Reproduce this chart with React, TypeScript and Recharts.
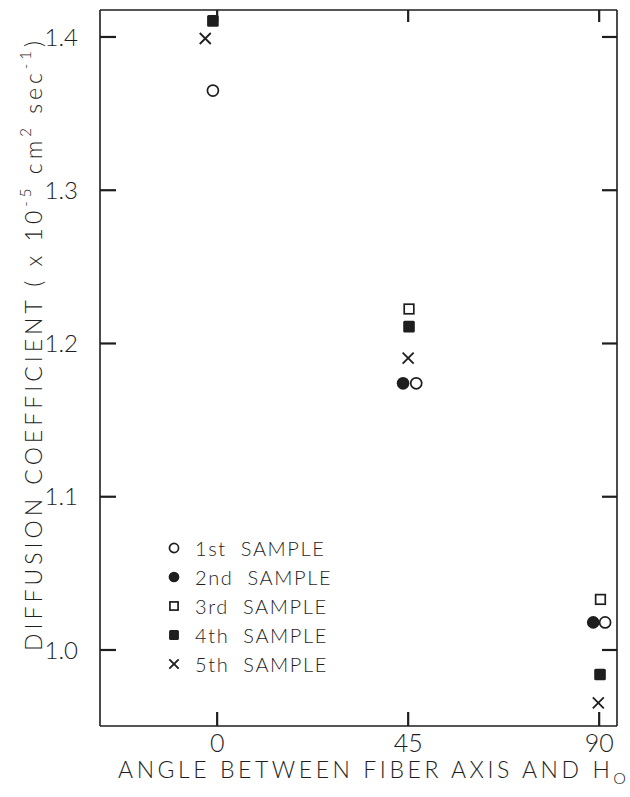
import React from 'react';
import { ScatterChart, Scatter, XAxis, YAxis, Legend, Label } from 'recharts';

// angle (deg) vs diffusion coefficient (x 10^-5 cm2/sec)
const angleTicks = [0, 45, 90];
const coefTicks = [1.0, 1.1, 1.2, 1.3, 1.4];

const sample1 = [
  { angle: -1, coef: 1.365 },
  { angle: 46.9, coef: 1.174 },
  { angle: 91.4, coef: 1.018 },
];
const sample2 = [
  { angle: 43.8, coef: 1.174 },
  { angle: 88.6, coef: 1.018 },
];
const sample3 = [
  { angle: 45.2, coef: 1.2225 },
  { angle: 90.3, coef: 1.033 },
];
const sample4 = [
  { angle: -1, coef: 1.4105 },
  { angle: 45.2, coef: 1.211 },
  { angle: 90.2, coef: 0.984 },
];
const sample5 = [
  { angle: -2.8, coef: 1.399 },
  { angle: 45, coef: 1.1905 },
  { angle: 89.8, coef: 0.9655 },
];

const sampleNames = ['1st SAMPLE', '2nd SAMPLE', '3rd SAMPLE', '4th SAMPLE', '5th SAMPLE'];

const INK = '#1e1e1e';
const FONT = 'Lato, "Open Sans", sans-serif';
const angleDomain = [-27.6, 94.2];
const coefDomain = [0.9504, 1.4176];

// anchor points for the inward frame ticks (placed through the chart scales)
const leftTickPts = coefTicks.map((v) => ({ angle: angleDomain[0], coef: v }));
const rightTickPts = coefTicks.map((v) => ({ angle: angleDomain[1], coef: v }));
const bottomTickPts = angleTicks.map((a) => ({ angle: a, coef: coefDomain[0] }));
const topTickPts = angleTicks.map((a) => ({ angle: a, coef: coefDomain[1] }));

type MarkerKind = 'openCircle' | 'dot' | 'openSquare' | 'square' | 'cross';
const markerKinds: MarkerKind[] = ['openCircle', 'dot', 'openSquare', 'square', 'cross'];

function Marker({ kind, cx, cy, scale = 1 }: { kind: MarkerKind; cx: number; cy: number; scale?: number }) {
  if (cx == null || cy == null) return null;
  const r = 6.3 * scale;
  switch (kind) {
    case 'openCircle':
      return <circle cx={cx} cy={cy} r={r - 0.8} fill="#fff" stroke={INK} strokeWidth={1.7} />;
    case 'dot':
      return <circle cx={cx} cy={cy} r={r} fill={INK} />;
    case 'openSquare': {
      const h = 4.8 * scale;
      return <rect x={cx - h} y={cy - h} width={2 * h} height={2 * h} fill="#fff" stroke={INK} strokeWidth={1.7} />;
    }
    case 'square': {
      const h = 5.8 * scale;
      return <rect x={cx - h} y={cy - h} width={2 * h} height={2 * h} rx={1.5} fill={INK} />;
    }
    case 'cross': {
      const h = 5.5 * scale;
      return (
        <g stroke={INK} strokeWidth={1.8}>
          <line x1={cx - h} y1={cy - h} x2={cx + h} y2={cy + h} />
          <line x1={cx - h} y1={cy + h} x2={cx + h} y2={cy - h} />
        </g>
      );
    }
  }
  return null;
}

const makeShape = (kind: MarkerKind) => (props: any) => <Marker kind={kind} cx={props.cx} cy={props.cy} />;

// tick mark drawn from its anchor on the frame, pointing inward by (dx, dy)
const tickShape = (dx: number, dy: number) => (p: any) =>
  p.cx == null ? <g /> : (
    <path d={`M${p.cx},${p.cy}L${p.cx + dx},${p.cy + dy}`} stroke={INK} strokeWidth={2.2} fill="none" />
  );

function LeftTick(props: any) {
  const { x, y, payload } = props;
  return (
    <text x={x} y={y} dy="0.36em" textAnchor="end" fontFamily={FONT} fontWeight={300} fontSize={24} fill={INK}>
      {Number(payload.value).toFixed(1)}
    </text>
  );
}

function BottomTick(props: any) {
  const { x, y, payload } = props;
  return (
    <text x={x} y={y} dy="0.72em" textAnchor="middle" fontFamily={FONT} fontWeight={300} fontSize={25} fill={INK}>
      {payload.value}
    </text>
  );
}

function SampleLegend() {
  return (
    <div style={{ fontFamily: FONT, fontWeight: 300, color: INK }}>
      {sampleNames.map((name, i) => (
        <div key={name} style={{ display: 'flex', alignItems: 'center', height: 28.8 }}>
          <svg width={16} height={16} style={{ marginRight: 13 }}>
            <Marker kind={markerKinds[i]} cx={8} cy={8} scale={0.85} />
          </svg>
          <span style={{ fontSize: 20, letterSpacing: 1.6, whiteSpace: 'pre' }}>
            {name.replace(' ', '  ')}
          </span>
        </div>
      ))}
    </div>
  );
}

function YTitle(props: any) {
  const vb = props.viewBox || { x: 0, y: 0, width: 0, height: 0 };
  const x = vb.x + 33;
  const y = vb.y + vb.height / 2 - 22;
  return (
    <text
      x={x}
      y={y}
      transform={`rotate(-90 ${x} ${y})`}
      textAnchor="middle"
      dominantBaseline="central"
      fontFamily={FONT}
      fontWeight={300}
      fontSize={23}
      fill={INK}
      textLength={610}
      lengthAdjust="spacing"
    >
      DIFFUSION COEFFICIENT ( x 10
      <tspan dy={-8} fontSize={15}>-5</tspan>
      <tspan dy={8}> cm</tspan>
      <tspan dy={-8} fontSize={15}>2</tspan>
      <tspan dy={8}> sec</tspan>
      <tspan dy={-8} fontSize={15}>-1</tspan>
      <tspan dy={8}>)</tspan>
    </text>
  );
}

function XTitle(props: any) {
  const vb = props.viewBox || { x: 0, y: 0, width: 0, height: 0 };
  const x = 372;
  const y = vb.y + 52;
  return (
    <text
      x={x}
      y={y}
      textAnchor="middle"
      fontFamily={FONT}
      fontWeight={300}
      fontSize={23}
      fill={INK}
      textLength={508}
      lengthAdjust="spacing"
    >
      ANGLE BETWEEN FIBER AXIS AND H
      <tspan dy={6} fontSize={16}>O</tspan>
    </text>
  );
}

export default function App() {
  return (
    <div style={{ position: 'absolute', left: 0, top: 0, width: 630, height: 797, background: '#fff' }}>
      <ScatterChart width={630} height={797} margin={{ top: 9, right: 12, bottom: 0, left: 0 }}>
        <XAxis
          xAxisId="b"
          type="number"
          dataKey="angle"
          domain={angleDomain}
          ticks={angleTicks}
          allowDataOverflow
          height={71}
          stroke={INK}
          strokeWidth={1.6}
          tickLine={false}
          tickSize={0}
          tickMargin={8}
          tick={(p: any) => <BottomTick {...p} />}
        >
          <Label content={<XTitle />} />
        </XAxis>
        <XAxis
          xAxisId="t"
          orientation="top"
          type="number"
          dataKey="angle"
          domain={angleDomain}
          ticks={angleTicks}
          allowDataOverflow
          height={1}
          stroke={INK}
          strokeWidth={1.6}
          tickLine={false}
          tick={false}
        />
        <YAxis
          yAxisId="l"
          type="number"
          dataKey="coef"
          domain={coefDomain}
          ticks={coefTicks}
          allowDataOverflow
          width={100}
          stroke={INK}
          strokeWidth={1.6}
          tickLine={false}
          tickSize={0}
          tickMargin={22}
          tick={(p: any) => <LeftTick {...p} />}
        >
          <Label content={<YTitle />} />
        </YAxis>
        <YAxis
          yAxisId="r"
          orientation="right"
          type="number"
          dataKey="coef"
          domain={coefDomain}
          ticks={coefTicks}
          allowDataOverflow
          width={1}
          stroke={INK}
          strokeWidth={1.6}
          tickLine={false}
          tick={false}
        />
        <Legend
          layout="vertical"
          align="center"
          verticalAlign="middle"
          content={<SampleLegend />}
          wrapperStyle={{ left: 166, top: 534, width: 220 }}
        />
        {/* inward ticks on the four sides of the frame */}
        <Scatter data={leftTickPts} xAxisId="b" yAxisId="l" shape={tickShape(16, 0)} legendType="none" isAnimationActive={false} />
        <Scatter data={rightTickPts} xAxisId="b" yAxisId="l" shape={tickShape(-15, 0)} legendType="none" isAnimationActive={false} />
        <Scatter data={bottomTickPts} xAxisId="b" yAxisId="l" shape={tickShape(0, -14)} legendType="none" isAnimationActive={false} />
        <Scatter data={topTickPts} xAxisId="b" yAxisId="l" shape={tickShape(0, 12)} legendType="none" isAnimationActive={false} />

        <Scatter name={sampleNames[0]} data={sample1} xAxisId="b" yAxisId="l" shape={makeShape('openCircle')} isAnimationActive={false} />
        <Scatter name={sampleNames[1]} data={sample2} xAxisId="b" yAxisId="l" shape={makeShape('dot')} isAnimationActive={false} />
        <Scatter name={sampleNames[2]} data={sample3} xAxisId="b" yAxisId="l" shape={makeShape('openSquare')} isAnimationActive={false} />
        <Scatter name={sampleNames[3]} data={sample4} xAxisId="b" yAxisId="l" shape={makeShape('square')} isAnimationActive={false} />
        <Scatter name={sampleNames[4]} data={sample5} xAxisId="b" yAxisId="l" shape={makeShape('cross')} isAnimationActive={false} />
        {/* binds the top/right frame axes so they get drawn; draws nothing itself */}
        <Scatter data={sample1} xAxisId="t" yAxisId="r" shape={() => <g />} legendType="none" isAnimationActive={false} />
      </ScatterChart>
    </div>
  );
}
